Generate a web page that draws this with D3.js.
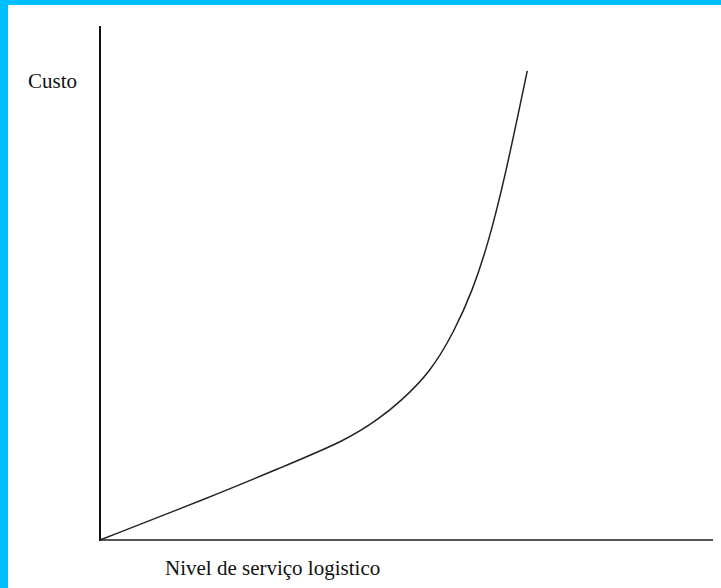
<!DOCTYPE html>
<html>
<head>
<meta charset="utf-8">
<script src="https://cdn.jsdelivr.net/npm/d3@7"></script>
<style>
html,body{margin:0;padding:0;background:#fff;overflow:hidden;}
svg{display:block;}
</style>
</head>
<body>
<script>
// Data: service level (x) vs cost (y), arbitrary units 0-100
const serviceLevel = [0, 17.9, 29.4, 40.3, 45.7, 48.9, 53.8, 57.8, 60.8, 63.3, 66.0, 69.7];
const cost         = [0, 8.3, 14.0, 19.4, 23.7, 26.8, 32.4, 40.5, 48.5, 57.5, 70.0, 91.1];
const yLabel = "Custo";
const xLabel = "Nivel de serviço logistico";

const W = 721, H = 588;
const svg = d3.select("body").append("svg").attr("width", W).attr("height", H);

// cyan frame (left and top)
svg.append("rect").attr("x",0).attr("y",0).attr("width",W).attr("height",H).attr("fill","#fff");
svg.append("rect").attr("x",0).attr("y",0).attr("width",8).attr("height",H).attr("fill","#00BFFF");
svg.append("rect").attr("x",0).attr("y",0).attr("width",W).attr("height",5).attr("fill","#00BFFF");

const x = d3.scaleLinear().domain([0,100]).range([100,713]);
const y = d3.scaleLinear().domain([0,100]).range([540,25]);

// axes
svg.append("line").attr("x1",x(0)).attr("x2",x(100)).attr("y1",y(0)).attr("y2",y(0))
  .attr("stroke","#555").attr("stroke-width",2);
svg.append("line").attr("x1",x(0)).attr("x2",x(0)).attr("y1",y(0)+1).attr("y2",y(100)+1)
  .attr("stroke","#111").attr("stroke-width",2);

const pts = serviceLevel.map((v,i)=>[v,cost[i]]);
const line = d3.line().x(d=>x(d[0])).y(d=>y(d[1])).curve(d3.curveBasis);
svg.append("path").datum(pts).attr("d",line).attr("fill","none")
  .attr("stroke","#222").attr("stroke-width",1.5);

svg.append("text").attr("x",28).attr("y",88).text(yLabel)
  .attr("font-family","'Liberation Serif', 'Times New Roman', serif").attr("font-size",21).attr("fill","#111");
svg.append("text").attr("x",165).attr("y",575).text(xLabel)
  .attr("font-family","'Liberation Serif', 'Times New Roman', serif").attr("font-size",21).attr("fill","#111");
</script>
</body>
</html>
